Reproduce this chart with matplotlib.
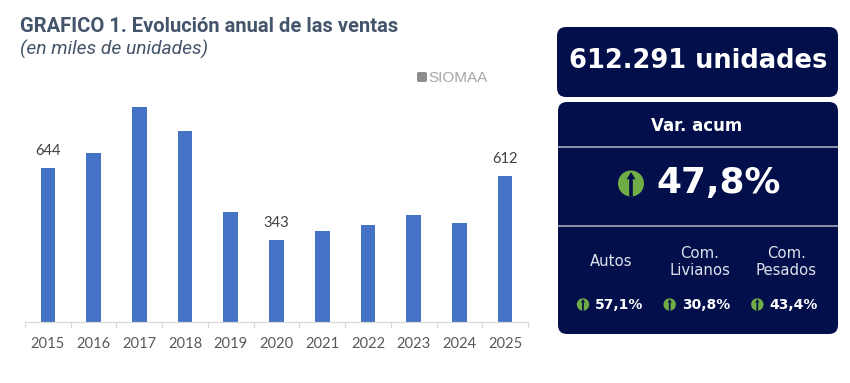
import matplotlib
matplotlib.use('Agg')
import matplotlib.pyplot as plt
from matplotlib.patches import FancyBboxPatch, Circle, Polygon, Rectangle

# Chart data
years = ['2015', '2016', '2017', '2018', '2019', '2020', '2021', '2022', '2023', '2024', '2025']
sales = [644, 706, 899, 798, 460, 343, 380, 405, 447, 414, 612]
labeled_years = ['2015', '2020', '2025']

# Panel values
total_text = '612.291 unidades'
var_title = 'Var. acum'
var_total = '47,8%'
segments = ['Autos', 'Com.\nLivianos', 'Com.\nPesados']
segment_vars = ['57,1%', '30,8%', '43,4%']

NAVY = '#020f4a'
GREEN = '#70ad47'
BLUE = '#4472c4'
TITLE = '#44546a'
GRAY = '#595959'

W, H = 850, 383
fig = plt.figure(figsize=(W / 100, H / 100), dpi=100, facecolor='white')

# Overlay in pixel coordinates for texts and panels
bg = fig.add_axes([0, 0, 1, 1])
bg.set_xlim(0, W)
bg.set_ylim(H, 0)
bg.axis('off')

bg.text(20, 26, 'GRAFICO 1. Evolución anual de las ventas', family='Roboto', fontweight='bold',
        fontsize=14.5, color=TITLE, va='center', ha='left')
bg.text(20, 49, '(en miles de unidades)', family='Roboto', fontstyle='italic',
        fontsize=13.9, color=TITLE, va='center', ha='left')

# Watermark
bg.add_patch(FancyBboxPatch((417, 72), 10, 10, boxstyle='round,pad=0,rounding_size=2',
                            fc='#8c8c8c', ec='none'))
bg.text(428, 77.5, 'SIOMAA', family='Liberation Sans', fontsize=11, color='#a6a6a6', va='center', ha='left')


def panel(x0, y0, x1, y1):
    bg.add_patch(FancyBboxPatch((x0, y0), x1 - x0, y1 - y0, boxstyle='round,pad=0,rounding_size=9',
                                fc=NAVY, ec='none'))


def up_icon(cx, cy, r):
    # green disc with a navy up arrow
    bg.add_patch(Circle((cx, cy), r, fc=GREEN, ec='none'))
    s = r * 0.14
    bg.add_patch(Polygon([(cx - s, cy + r), (cx - s, cy - r * 0.35), (cx - r * 0.36, cy - r * 0.3),
                          (cx, cy - r * 0.88), (cx + r * 0.36, cy - r * 0.3),
                          (cx + s, cy - r * 0.35), (cx + s, cy + r)], closed=True, fc=NAVY, ec='none'))


panel(557, 27, 838, 97)
panel(558, 102, 838, 334)
bg.add_patch(Rectangle((558, 146.3), 280, 1.3, fc='#8a8fa8', ec='none'))
bg.add_patch(Rectangle((558, 225.3), 280, 1.3, fc='#8a8fa8', ec='none'))

bg.text(698.5, 61, total_text, family='DejaVu Sans', fontweight='bold', fontsize=18.5,
        color='white', ha='center', va='center')
bg.text(696.5, 126, var_title, family='DejaVu Sans', fontweight='bold', fontsize=12,
        color='white', ha='center', va='center')
up_icon(631, 183.5, 13)
bg.text(656, 183.5, var_total, family='DejaVu Sans', fontweight='bold', fontsize=25.8,
        color='white', ha='left', va='center')

seg_x = [611.5, 700, 786.5]
icon_x = [583, 669.7, 757.3]
for name, val, tx, ix in zip(segments, segment_vars, seg_x, icon_x):
    bg.text(tx, 262, name, family='DejaVu Sans', fontsize=10.7, color='#dfe2ec', ha='center',
            va='center', linespacing=1.12)
    up_icon(ix, 304.5, 6.2)
    bg.text(ix + 12, 305, val, family='DejaVu Sans', fontweight='bold', fontsize=10, color='white',
            ha='left', va='center')

# Bar chart, axes placed in pixels
left, right, base, top = 25, 528, 322, 83
ax = fig.add_axes([left / W, 1 - base / H, (right - left) / W, (base - top) / H])
ax.patch.set_alpha(0)
bars = ax.bar(years, sales, width=0.32, color=BLUE)
ax.set_xlim(-0.5, len(years) - 0.5)
ax.set_ylim(0, 1000)
ax.set_yticks([])
for side in ['top', 'right', 'left']:
    ax.spines[side].set_visible(False)
ax.spines['bottom'].set_color('#d9d9d9')
ax.spines['bottom'].set_linewidth(0.9)
ax.set_xticks([i - 0.5 for i in range(len(years) + 1)], minor=True)
ax.tick_params(axis='x', which='minor', length=4, width=0.9, color='#d9d9d9', direction='out')
ax.tick_params(axis='x', which='major', length=0, pad=10.5, labelsize=10.6, labelcolor=GRAY)
for lab in ax.get_xticklabels():
    lab.set_fontfamily('Lato')
for year, val, bar in zip(years, sales, bars):
    if year in labeled_years:
        ax.annotate(str(val), (bar.get_x() + bar.get_width() / 2, val), xytext=(0, 7), textcoords='offset points',
                    ha='center', va='bottom', family='Lato', fontsize=10.6, color='#404040')

fig.savefig('out.png', dpi=100)
